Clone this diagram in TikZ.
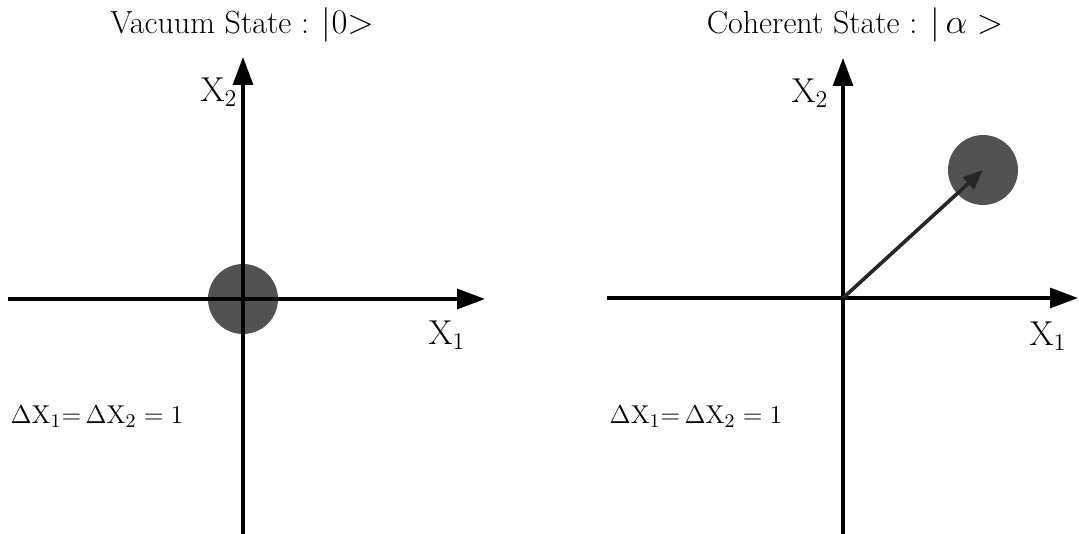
\documentclass[tikz,border=0pt]{standalone}
\usetikzlibrary{arrows.meta}
\begin{document}
\begin{tikzpicture}[x=0.5pt, y=-0.5pt, line width=1.55pt, line join=round,
	>={Triangle[length=14pt,width=10pt]},
	blob/.style={circle, fill=black!68, inner sep=0pt, minimum size=35pt},
	ttl/.style={font=\fontsize{16}{19}\selectfont},
	lbl/.style={font=\fontsize{16.5}{19}\selectfont},
	eq/.style={font=\fontsize{13}{16}\selectfont, transform shape, scale=1.075}]
	\useasboundingbox (0,0) rectangle (1079,534);
	\coordinate (Lo) at (243,299);
	\coordinate (Lw) at (8,299);
	\coordinate (Le) at (485,299);
	\coordinate (Ln) at (243,57);
	\coordinate (Ls) at (243,534);
	\coordinate (Ro) at (843,298);
	\coordinate (Rw) at (607,298);
	\coordinate (Re) at (1078,298);
	\coordinate (Rn) at (843,58);
	\coordinate (Rs) at (843,534);
	\node[blob] (vac) at (Lo) {};
	\node[blob] (coh) at (983,170) {};
	\draw[->] (Lw) -- (Le);
	\draw[->] (Ls) -- (Ln);
	\draw[->] (Rw) -- (Re);
	\draw[->] (Rs) -- (Rn);
	\draw[-{Triangle[length=10pt,width=8pt]}, line width=1.8pt, black!85] (Ro) -- (coh.center);
	\node[ttl] (vac-t) at (242,25) {Vacuum State : $|0{>}$};
	\node[ttl] (coh-t) at (855,25) {Coherent State : $|\,\alpha >$};
	\node[lbl] (Lx1) at (447,335) {$\mathrm{X}_1$};
	\node[lbl] (Lx2) at (219,92) {$\mathrm{X}_2$};
	\node[lbl] (Rx1) at (1048,336) {$\mathrm{X}_1$};
	\node[lbl] (Rx2) at (810,93) {$\mathrm{X}_2$};
	\node[eq] (Ld) at (97,417) {$\Delta\mathrm{X}_1{=}\,\Delta\mathrm{X}_2 = 1$};
	\node[eq] (Rd) at (696,417) {$\Delta\mathrm{X}_1{=}\,\Delta\mathrm{X}_2 = 1$};
\end{tikzpicture}
\end{document}
